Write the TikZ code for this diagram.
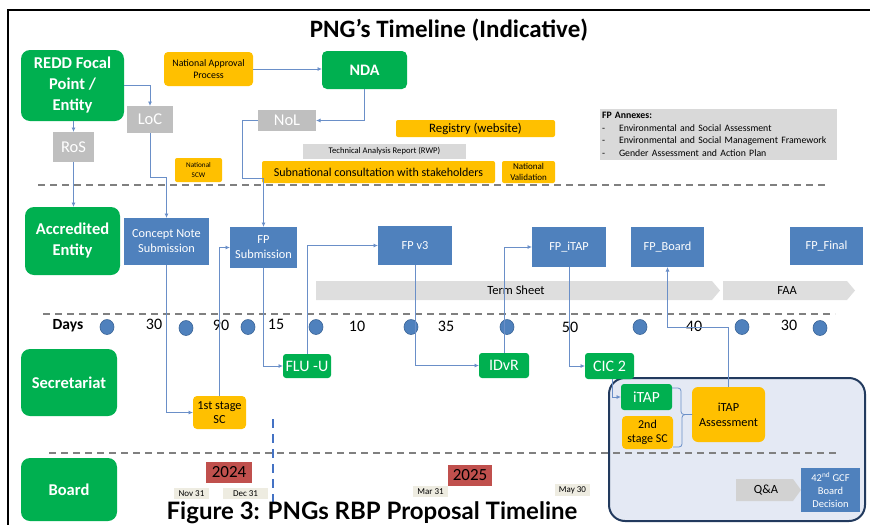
\documentclass[tikz,border=0pt]{standalone}
\usepackage{fontspec}
\setmainfont{Carlito}
\newfontfamily\capfont{Lato}
\usetikzlibrary{arrows.meta,shapes.geometric}
\definecolor{cgreen}{HTML}{00B050}
\definecolor{corange}{HTML}{FFC000}
\definecolor{cblue}{HTML}{4F81BD}
\definecolor{cdotline}{HTML}{3A6496}
\definecolor{cgrey}{HTML}{BFBFBF}
\definecolor{clight}{HTML}{D9D9D9}
\definecolor{cterm}{HTML}{DEDEDE}
\definecolor{cbeige}{HTML}{EEECE1}
\definecolor{cred}{HTML}{C0504D}
\definecolor{cpanel}{HTML}{E4E9F4}
\definecolor{cnavy}{HTML}{223A5E}
\definecolor{cline}{HTML}{6A8FC8}
\definecolor{csep}{HTML}{808080}
\definecolor{cvdash}{HTML}{4472C4}
\newcommand{\mybox}[7]{\node[#1, minimum width={#5-#3}, minimum height={#6-#4}] (#2) at ({(#3+#5)/2},{(#4+#6)/2}) {#7};}
\newcommand{\fs}[2]{\fontsize{#1}{#2}\selectfont}
\tikzset{
  base/.style={inner sep=0pt, outer sep=0pt, align=center},
  lane/.style={base, fill=cgreen, rounded corners=9pt, text=white, font=\bfseries\fs{16.5}{21}},
  gbox/.style={base, fill=cgreen, rounded corners=3pt, text=white, font=\fs{16}{18}},
  obox/.style={base, fill=corange, rounded corners=4pt, font=\fs{9.9}{12}},
  bbox/.style={base, fill=cblue, text=white, font=\fs{12.3}{15}},
  greybox/.style={base, fill=cgrey, text=white, font=\fs{16.5}{18}},
  conn/.style={draw=cline, line width=0.8pt, -{Latex[length=4.5pt,width=4pt]}},
  bracket/.style={draw=cline, line width=0.8pt, rounded corners=3pt},
  dot/.style={ellipse, fill=cblue, draw=cdotline, line width=0.6pt, minimum width=14pt, minimum height=15pt, inner sep=0pt},
  sepline/.style={draw=csep, line width=1.3pt, dash pattern=on 7pt off 5pt},
  num/.style={inner sep=0pt, font=\fs{16}{18}},
  datebox/.style={base, fill=cbeige, font=\fs{9}{10}},
  yearbox/.style={base, fill=cred, font=\fs{17}{19}},
}
\begin{document}
\begin{tikzpicture}[x=1pt,y=-1pt]
\useasboundingbox (0,0) rectangle (870,525);
% frame
\draw[line width=1.8pt] (870,10) -- (8,10) -- (8,525);
% title
\node[inner sep=0pt, font=\bfseries\fs{25}{28}] (title) at (449,30) {PNG’s Timeline (Indicative)};
% separators
\draw[sepline] (38,185) -- (828,185);
\draw[sepline] (43,314) -- (835,314);
% panel
\draw[fill=cpanel, draw=cnavy, line width=2pt, rounded corners=16pt] (609,378) rectangle (865,521);
\draw[sepline] (49,453) -- (840,453);
% lanes
\mybox{lane}{redd}{21}{50}{124}{121}{REDD Focal\\Point /\\Entity}
\mybox{lane}{ae}{25}{207}{120}{275}{Accredited\\Entity}
\mybox{lane}{sec}{21}{349}{117}{416}{Secretariat}
\mybox{lane}{board}{21}{458}{117}{521}{Board}
% top row
\mybox{obox}{nap}{164}{52}{253}{86}{National Approval\\Process}
\mybox{lane, rounded corners=5pt, font=\bfseries\fs{16}{18}}{nda}{322}{51}{407}{89}{NDA}
\mybox{greybox}{loc}{127}{106}{173}{133}{LoC}
\mybox{greybox}{ros}{53}{132}{94}{162}{RoS}
\mybox{greybox}{nol}{258}{110}{316}{131}{NoL}
\mybox{obox, rounded corners=2pt, font=\fs{12.8}{14}}{reg}{396}{120}{555}{137}{Registry (website)}
\mybox{base, fill=clight, font=\fs{8.6}{10}}{tar}{303}{144}{466}{159}{Technical Analysis Report (RWP)}
\mybox{obox, rounded corners=2pt, font=\fs{12}{14}}{sub}{262}{161}{495}{183}{Subnational consultation with stakeholders}
\mybox{obox, rounded corners=2pt, font=\fs{9}{11}}{nval}{502}{161}{555}{183}{National\\Validation}
\mybox{obox, rounded corners=2pt, font=\fs{7.2}{10}}{nscw}{175}{158}{222}{182}{National\\SCW}
\node[base, fill=clight, minimum height=51, text width=233pt, inner xsep=2pt, align=left, font=\fs{9.8}{12.7}] (annex) at (718.5,134.5) {%
\textbf{FP Annexes:}\\
-\hspace{14pt}Environmental and Social Assessment\\
-\hspace{14pt}Environmental and Social Management Framework\\
-\hspace{14pt}Gender Assessment and Action Plan};
% accredited entity row
\mybox{bbox}{cns}{124}{218}{209}{265}{Concept Note\\Submission}
\mybox{bbox}{fps}{230}{227}{297}{268}{FP\\Submission}
\mybox{bbox}{fpv}{378}{226}{452}{265}{FP v3}
\mybox{bbox}{fpitap}{532}{227}{606}{267}{FP\_iTAP}
\mybox{bbox}{fpboard}{631}{227}{704}{267}{FP\_Board}
\mybox{bbox}{fpfinal}{790}{227}{863}{265}{FP\_Final}
% term sheet and FAA
\fill[cterm] (316,281) -- (712,281) -- (720,290.5) -- (712,300) -- (316,300) -- cycle;
\node[inner sep=0pt, font=\fs{12.5}{14}] (ts) at (516,290.5) {Term Sheet};
\fill[cterm] (723,281) -- (847,281) -- (855,290.5) -- (847,300) -- (723,300) -- cycle;
\node[inner sep=0pt, font=\fs{12.5}{14}] (faa) at (787,290.5) {FAA};
% days row
\node[inner sep=0pt, font=\bfseries\fs{15.5}{17}] (days) at (68,326) {Days};
\node[dot] (d1) at (107,327) {};
\node[dot] (d2) at (186,328) {};
\node[dot] (d3) at (248,327) {};
\node[dot] (d4) at (316,327) {};
\node[dot] (d5) at (411,327) {};
\node[dot] (d6) at (507,327) {};
\node[dot] (d7) at (640,327) {};
\node[dot] (d8) at (742,327) {};
\node[dot] (d9) at (820,328) {};
\node[num] (n1) at (154,324) {30};
\node[num] (n2) at (221,325) {90};
\node[num] (n3) at (276,324) {15};
\node[num] (n4) at (357,326) {10};
\node[num] (n5) at (446,326) {35};
\node[num] (n6) at (570,327) {50};
\node[num] (n7) at (694,326) {40};
\node[num] (n8) at (789,325) {30};
% secretariat row
\mybox{gbox}{flu}{283}{354}{331}{378}{FLU -U}
\mybox{gbox}{idvr}{479}{353}{529}{378}{IDvR}
\mybox{gbox}{cic}{585}{353}{634}{379}{CIC 2}
\mybox{obox, font=\fs{12.3}{14.5}}{sc1}{193}{396}{246}{429}{1st stage\\SC}
% panel content
\mybox{gbox, font=\fs{15.5}{17}}{itap}{621}{384}{672}{410}{iTAP}
\mybox{obox, font=\fs{12}{14.5}}{sc2}{622}{416}{673}{449}{2nd\\stage SC}
\mybox{obox, rounded corners=6pt, font=\fs{12.3}{15}}{itapa}{692}{387}{765}{442}{iTAP\\Assessment}
\fill[cgrey!70!white] (736,479) -- (793,479) -- (801,490) -- (793,501) -- (736,501) -- cycle;
\node[inner sep=0pt, font=\fs{12.5}{14}] (qa) at (766,490) {Q\&A};
\mybox{bbox, font=\fs{10.5}{13}}{gcf}{801}{468}{860}{512}{42\textsuperscript{nd} GCF\\Board\\Decision}
% board row
\mybox{yearbox}{y24}{206}{462}{252}{483}{2024}
\mybox{yearbox}{y25}{448}{465}{492}{486}{2025}
\mybox{datebox}{nov}{174}{488}{209}{499}{Nov 31}
\mybox{datebox}{dec}{223}{488}{268}{499}{Dec 31}
\mybox{datebox}{mar}{413}{486}{448}{497}{Mar 31}
\mybox{datebox}{may}{555}{484}{590}{496}{May 30}
\draw[cvdash, line width=2.5pt, dash pattern=on 9pt off 6pt] (273,419) -- (273,505);
% connectors
\draw[conn] (nap.east) -- (nap.east -| nda.west);
\draw[conn] (redd.east) -| (loc.north);
\draw[conn] (ros.north |- redd.south) -- (ros.north);
\draw[conn] (ros.south) -- (ros.south |- ae.north);
\draw[conn] (loc.south) -- ++(0,44) -| (cns.north);
\draw[conn] (nda.south) |- (nol.east);
\draw[conn] (nol.west) -- ++(-16,0) -- ++(0,58) -| (fps.north);
\draw[conn] (cns.south) |- (sc1.west);
\draw[conn] (sc1.north) |- (fps.west);
\draw[conn] (fps.south) |- (flu.west);
\draw[conn] (flu.north) |- (fpv.west);
\draw[conn] (fpv.south) |- (idvr.west);
\draw[conn] (idvr.north) |- (fpitap.west);
\draw[conn] (fpitap.south) |- (cic.west);
\draw[conn] ([xshift=3pt]cic.south) |- (itap.west);
\draw[conn] (itapa.north) -- ++(0,-60) -| (fpboard.south);
\draw[bracket] ([yshift=-4pt]itap.north east) -- ++(9,0) |- (itapa.west);
\draw[bracket] ([yshift=2pt]sc2.south east) -- ++(9,0) |- (itapa.west);
% caption
\node[inner sep=0pt, anchor=base, font=\capfont\bfseries\fs{24}{27}] (cap) at (372,519) {Figure 3: PNGs RBP Proposal Timeline};
\end{tikzpicture}
\end{document}
